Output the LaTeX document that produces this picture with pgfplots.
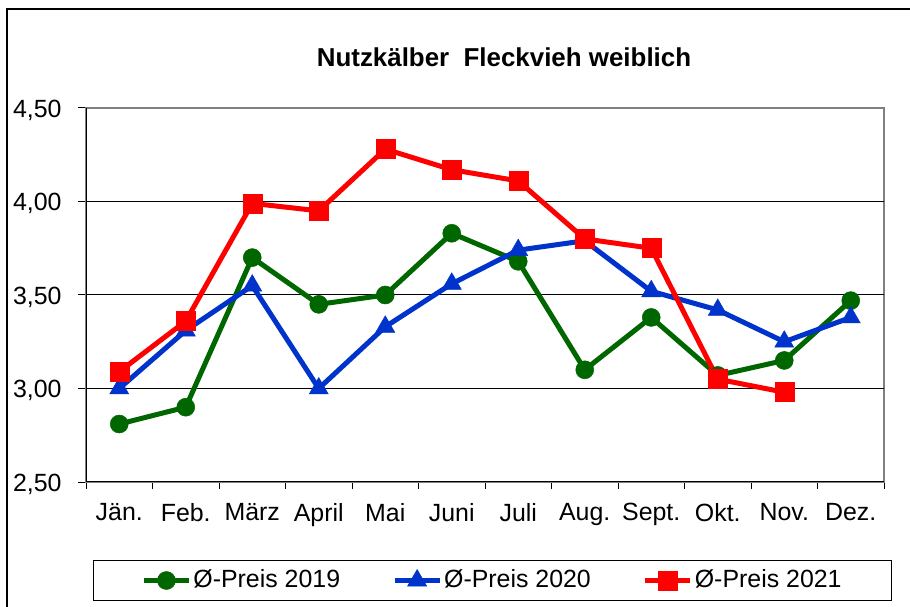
\documentclass[border=0pt]{standalone}
\usepackage{pgfplots}
\pgfplotsset{compat=1.18}
\usepackage{fontspec}
\setmainfont{Liberation Sans}
\definecolor{cgreen}{RGB}{0,102,0}
\definecolor{cblue}{RGB}{0,51,204}
\definecolor{cred}{RGB}{255,0,0}
\definecolor{cframe}{RGB}{128,128,128}
\begin{document}
\fontsize{25}{29}\selectfont
\begin{tikzpicture}
\useasboundingbox (0bp,0bp) rectangle (910bp,607bp);
\fill[white] (0bp,0bp) rectangle (910bp,607bp);
\draw[line width=1.2bp] (7bp,-20bp) -- (7bp,598bp) -- (930bp,598bp);
\begin{axis}[
  at={(86bp,125bp)}, anchor=south west,
  scale only axis, width=798bp, height=374bp,
  xmin=0.5, xmax=12.5, ymin=2.5, ymax=4.5,
  axis line style={draw=cframe, line width=1.2bp},
  xtick={1,...,12},
  xticklabels={Jän.,Feb.,März,April,Mai,Juni,Juli,Aug.,Sept.,Okt.,Nov.,Dez.},
  major x tick style={draw=none},
  minor xtick={0.5,1.5,...,12.5},
  minor tick length=7bp,
  tick align=outside,
  xtick pos=bottom, ytick pos=left,
  ytick={2.5,3,3.5,4,4.5},
  major tick length=8bp,
  tick style={black, line width=1bp},
  extra y ticks={3,3.5,4},
  extra y tick labels={},
  extra y tick style={grid=major, major tick length=0pt},
  major grid style={black, line width=1bp},
  yticklabel style={/pgf/number format/fixed, /pgf/number format/fixed zerofill,
    /pgf/number format/precision=2, /pgf/number format/use comma,
    /pgf/number format/assume math mode=true, font=\fontsize{25}{29}\selectfont,
    xshift=-8bp, yshift=-2bp},
  xticklabel style={font=\fontsize{25}{29}\selectfont, yshift=-5bp},
  title={\bfseries Nutzkälber\ \ Fleckvieh weiblich},
  title style={at={(axis description cs:0.5238,1.096)}, anchor=base, font=\fontsize{26}{30}\selectfont},
  legend columns=3,
  legend style={at={(axis description cs:0.5094,-0.2634)}, anchor=center,
    draw=black, line width=1bp, inner xsep=48bp, inner ysep=7.5bp,
    font=\fontsize{25}{29}\selectfont,
    /tikz/every even column/.append style={column sep=50bp}},
  legend image code/.code={\draw[mark repeat=2,mark phase=2] plot coordinates {(0bp,0bp) (22.5bp,0bp) (45bp,0bp)};},
]
\addplot[cgreen, line width=5bp, mark=*, mark size=9bp, mark options={solid, line width=0.5bp}]
  coordinates {(1,2.81) (2,2.90) (3,3.70) (4,3.45) (5,3.50) (6,3.83) (7,3.68) (8,3.10) (9,3.38) (10,3.07) (11,3.15) (12,3.47)};
\addlegendentry{Ø-Preis 2019}
\addplot[cblue, line width=5bp, mark=triangle*, mark size=11bp, mark options={solid, line width=0.5bp}]
  coordinates {(1,3.00) (2,3.31) (3,3.55) (4,3.00) (5,3.33) (6,3.56) (7,3.74) (8,3.79) (9,3.52) (10,3.42) (11,3.25) (12,3.38)};
\addlegendentry{Ø-Preis 2020}
\addplot[cred, line width=5bp, mark=square*, mark size=9.5bp, mark options={solid, line width=0.5bp}]
  coordinates {(1,3.09) (2,3.36) (3,3.99) (4,3.95) (5,4.28) (6,4.17) (7,4.11) (8,3.80) (9,3.75) (10,3.05) (11,2.98)};
\addlegendentry{Ø-Preis 2021}
\draw[black, line width=1.2bp] (rel axis cs:0,1) -- (rel axis cs:0,0) -- (rel axis cs:1,0);
\end{axis}
\end{tikzpicture}
\end{document}
